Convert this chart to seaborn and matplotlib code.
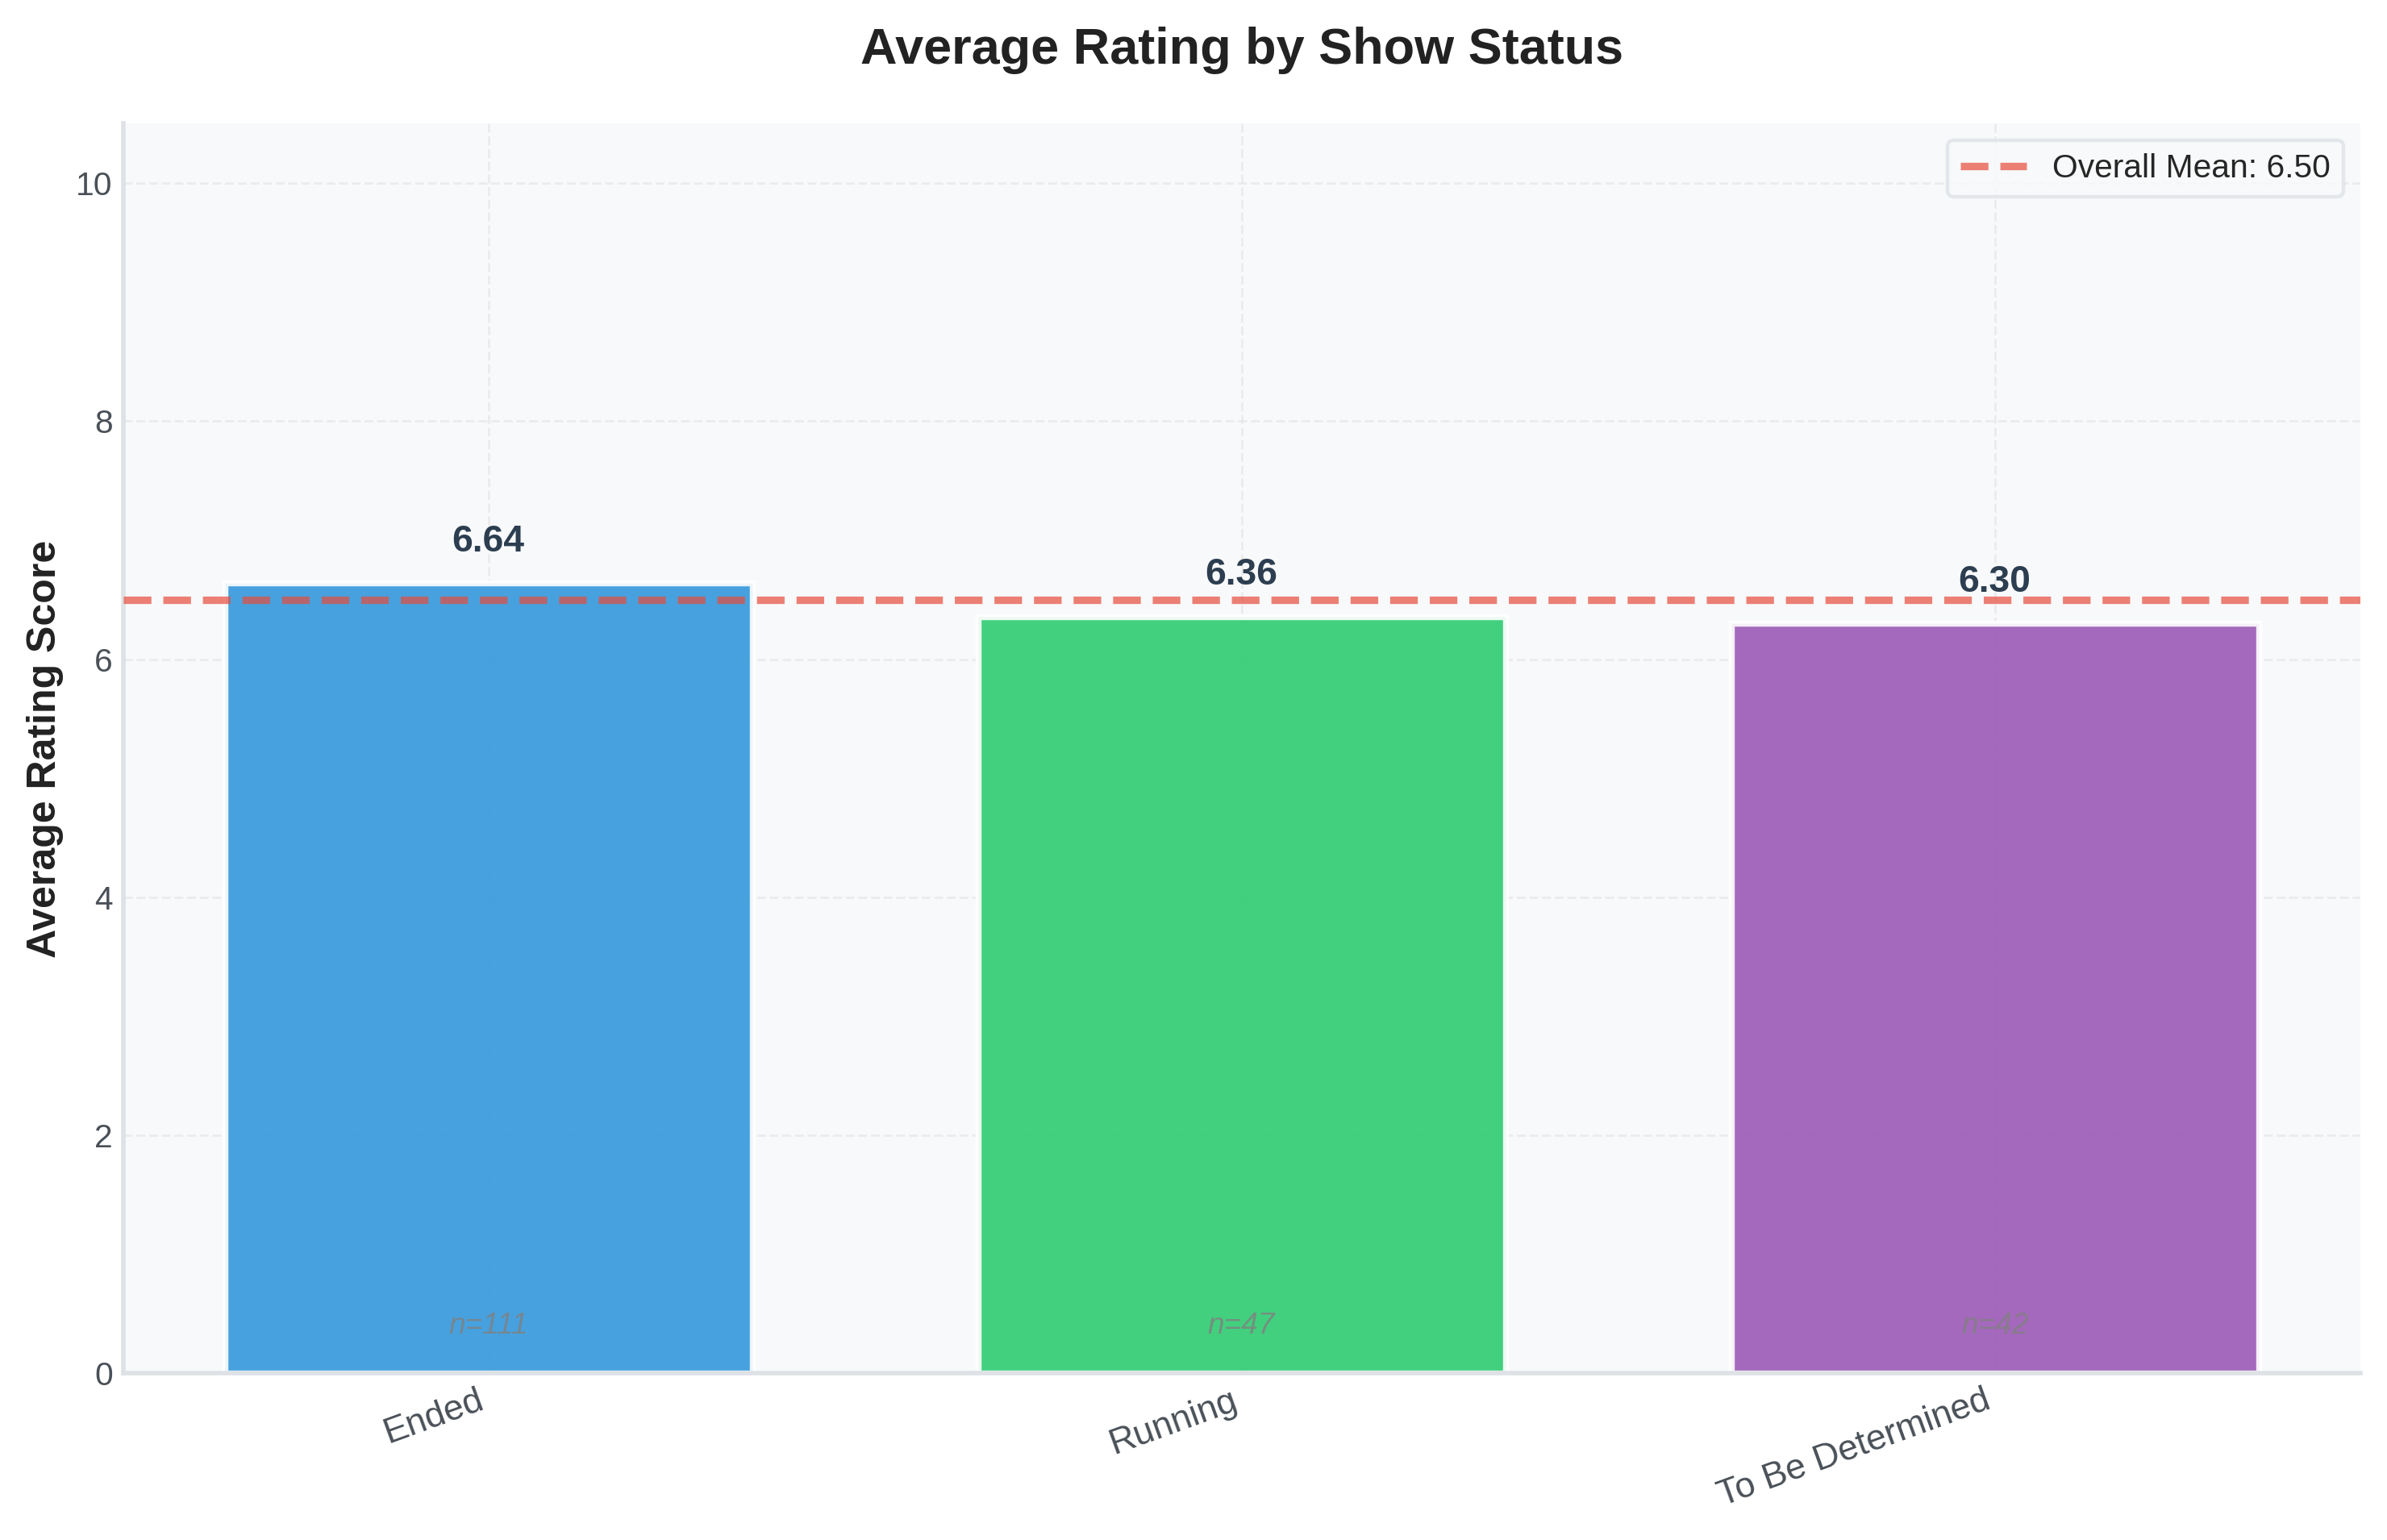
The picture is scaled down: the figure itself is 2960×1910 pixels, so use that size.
import matplotlib
matplotlib.use("Agg")
import matplotlib.pyplot as plt
import seaborn as sns
import pandas as pd

categories = ["Ended", "Running", "To Be Determined"]
ratings = [6.64, 6.36, 6.30]
counts = [111, 47, 42]
overall_mean = 6.50
colors = ["#3498db", "#2ecc71", "#9b59b6"]

sns.set_style("whitegrid")
plt.rcParams['font.family'] = ['Liberation Sans', 'DejaVu Sans']

df = pd.DataFrame({"status": categories, "rating": ratings})

DPI = 2960 / 11.1
fig, ax = plt.subplots(figsize=(11.1, 7.1625), dpi=DPI)
fig.patch.set_facecolor("white")
ax.set_facecolor("#f8f9fa")

sns.barplot(data=df, x="status", y="rating", hue="status", palette=colors,
            saturation=1, width=0.7, alpha=0.9, edgecolor="white", linewidth=2,
            legend=False, ax=ax, zorder=2)

ax.axhline(overall_mean, color="#e74c3c", linestyle="--", linewidth=2.5,
           alpha=0.7, zorder=3, label=f"Overall Mean: {overall_mean:.2f}")

for i, (v, n) in enumerate(zip(ratings, counts)):
    ax.text(i, v + 0.2, f"{v:.2f}", ha="center", va="bottom",
            fontsize=12.5, fontweight="bold", color="#2c3e50")
    ax.text(i, 0.4, f"n={n}", ha="center", va="center", fontsize=10,
            style="italic", color="gray", alpha=0.8)

ax.set_xlim(-0.485, 2.485)
ax.set_ylim(0, 10.5)
ax.set_title("Average Rating by Show Status", fontsize=17, fontweight="bold",
             pad=20, color="#222222")
ax.set_ylabel("Average Rating Score", fontsize=13.5, fontweight="bold", color="#222222")
ax.set_xlabel("")
ax.tick_params(axis="x", labelsize=12, colors="#495057", length=0)
ax.tick_params(axis="y", labelsize=11, colors="#495057", length=0)
plt.setp(ax.get_xticklabels(), rotation=20, ha="right")

ax.grid(True, linestyle="--", alpha=0.5, color="#e0e0e0", linewidth=0.8)
ax.set_axisbelow(True)
for s in ["top", "right"]:
    ax.spines[s].set_visible(False)
for s in ["left", "bottom"]:
    ax.spines[s].set_color("#dee2e6")
    ax.spines[s].set_linewidth(1.5)

leg = ax.legend(loc="upper right", fontsize=11, frameon=True, fancybox=True)
leg.get_frame().set_edgecolor("#dee2e6")
leg.get_frame().set_facecolor("#f8f9fa")
leg.get_frame().set_linewidth(1.2)

plt.tight_layout(pad=0.9)
fig.savefig("out.png", dpi=DPI, facecolor="white")
